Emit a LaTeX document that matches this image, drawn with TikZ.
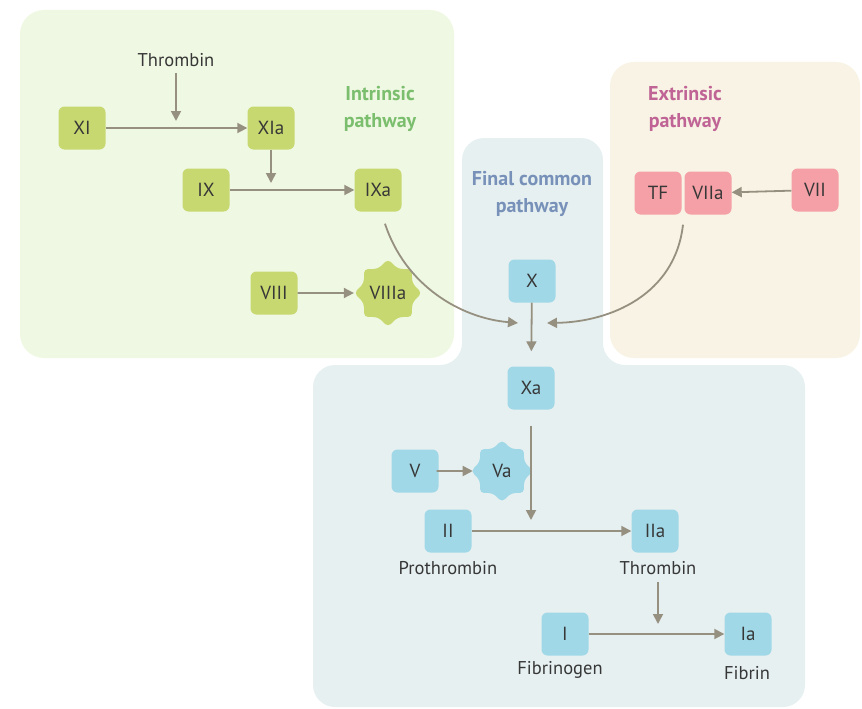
\documentclass[tikz,border=0pt]{standalone}
\usepackage{fontspec}
\setmainfont{PT Sans}
\usetikzlibrary{shapes.geometric,arrows.meta,calc}
\definecolor{gbox}{RGB}{199,216,112}
\definecolor{bbox}{RGB}{160,216,231}
\definecolor{pbox}{RGB}{244,160,166}
\definecolor{gpanel}{RGB}{239,248,226}
\definecolor{cpanel}{RGB}{248,243,228}
\definecolor{bpanel}{RGB}{230,240,241}
\definecolor{arr}{RGB}{150,144,128}
\definecolor{gtitle}{RGB}{122,190,110}
\definecolor{ptitle}{RGB}{192,100,150}
\definecolor{btitle}{RGB}{120,145,185}
\definecolor{txt}{RGB}{55,55,55}
\tikzset{
  fbox/.style={rounded corners=6pt, minimum width=47pt, minimum height=43pt, inner sep=0pt, text=txt, font=\fontsize{19}{20}\selectfont},
  gb/.style={fbox, fill=gbox},
  bb/.style={fbox, fill=bbox},
  pb/.style={fbox, fill=pbox},
  starbox/.style={star, star points=8, star point ratio=1.3, minimum size=62pt, inner sep=0pt, rounded corners=4pt, text=txt, font=\fontsize{19}{20}\selectfont},
  lbl/.style={text=txt, font=\fontsize{18.5}{20}\selectfont, inner sep=0pt},
  ttl/.style={font=\bfseries\fontsize{20}{27}\selectfont, align=center, inner sep=0pt},
  link/.style={draw=arr, line width=1.8pt, -{Triangle[length=10pt,width=10pt]}},
}
\begin{document}
\begin{tikzpicture}[x=1pt,y=-1pt]
\useasboundingbox (0,0) rectangle (862,709);
% panels
\fill[gpanel, rounded corners=24pt] (20,10) rectangle (454,358);
\fill[cpanel, rounded corners=24pt] (610,62) rectangle (860,358);
\fill[bpanel, rounded corners=22pt] (313,707) -- (313,365) -- (462,365) -- (462,138) -- (603,138) -- (603,365) -- (805,365) -- (805,707) -- cycle;
% titles
\node[ttl, text=gtitle] (tin) at (380,109) {Intrinsic\\pathway};
\node[ttl, text=ptitle] (tex) at (685,109) {Extrinsic\\pathway};
\node[ttl, text=btitle] (tfc) at (532,194) {Final common\\pathway};
% intrinsic
\node[lbl] (thr1) at (176,60) {Thrombin};
\node[gb] (XI) at (82,128) {XI};
\node[gb] (XIa) at (271,128) {XIa};
\node[gb] (IX) at (206,190) {IX};
\node[gb] (IXa) at (378,190) {IXa};
\node[gb] (VIII) at (274,293) {VIII};
\node[starbox, fill=gbox] (VIIIa) at (388,293) {VIIIa};
% extrinsic
\node[pb] (TF) at (658,193) {TF};
\node[pb] (VIIa) at (708,193) {VIIa};
\node[pb] (VII) at (815,190) {VII};
% common
\node[bb] (X) at (532,281) {X};
\node[bb] (Xa) at (531,388) {Xa};
\node[bb] (V) at (415,471) {V};
\node[starbox, fill=bbox] (Va) at (502,471) {Va};
\node[bb] (II) at (448,531) {II};
\node[bb] (IIa) at (655,531) {IIa};
\node[bb] (I) at (565,634) {I};
\node[bb] (Ia) at (748,634) {Ia};
\node[lbl] (pro) at (448,568) {Prothrombin};
\node[lbl] (thr2) at (658,568) {Thrombin};
\node[lbl] (fbg) at (560,670) {Fibrinogen};
\node[lbl] (fbn) at (747,673) {Fibrin};
\coordinate (jl) at (518,323);
\coordinate (jr) at (547,323);
% connectors
\draw[link] (XI) -- (XIa);
\draw[link, shorten <=6pt, shorten >=7pt] (thr1) -- (thr1 |- XI);
\draw[link] (IX) -- (IXa);
\draw[link, shorten >=7pt] (XIa) -- (XIa |- IX);
\draw[link] (VIII) -- (VIIIa);
\draw[link] (VII) -- (VIIa);
\draw[link] ($(IXa.south)+(7,12)$) .. controls (405,285) and (460,318) .. (jl);
\draw[link] ($(VIIa.south)+(-25,10)$) .. controls (675,295) and (610,322) .. (jr);
\draw[link, shorten >=15pt] (X) -- (Xa);
\draw[link, shorten <=16pt, shorten >=11pt] (Xa) -- (Xa |- II);
\draw[link, shorten <=-2pt, shorten >=-2pt] (V) -- (Va);
\draw[link] (II) -- (IIa);
\draw[link, shorten <=7pt, shorten >=10pt] (thr2) -- (thr2 |- I);
\draw[link] (I) -- (Ia);
\end{tikzpicture}
\end{document}
